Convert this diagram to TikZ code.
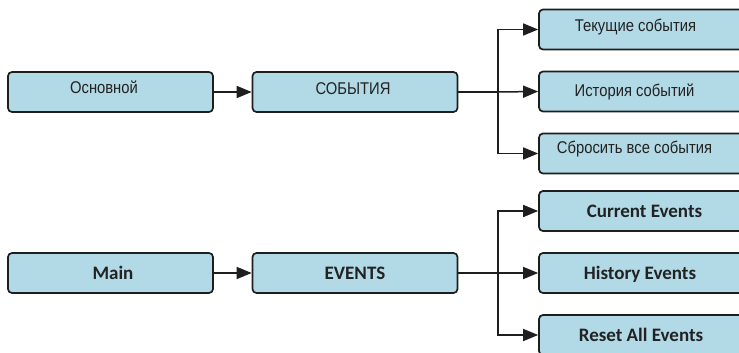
\documentclass[tikz,border=0pt]{standalone}
\usepackage{fontspec}
\setmainfont{Liberation Sans}
\newfontfamily\rufont[FakeStretch=0.87]{Liberation Sans}
\newfontfamily\enfont{Carlito}
\usetikzlibrary{arrows.meta}
\definecolor{boxfill}{HTML}{B1D9E6}
\definecolor{boxline}{HTML}{1E1E1E}
\definecolor{txt}{HTML}{222222}
\tikzset{
  box/.style={draw=boxline, line width=1.7pt, fill=boxfill, rounded corners=4pt,
    minimum width=205pt, minimum height=40pt, inner sep=0pt},
  rutext/.style={text height=0pt, text depth=0pt, text=txt, inner sep=0pt, font=\rufont\fontsize{17}{19}\selectfont},
  entext/.style={text height=0pt, text depth=0pt, text=txt, inner sep=0pt, font=\enfont\bfseries\fontsize{19}{21}\selectfont},
  conn/.style={line width=1.5pt, draw=boxline},
  arr/.style={conn, -{Triangle[length=15pt,width=12pt]}}
}
\begin{document}
\begin{tikzpicture}[x=1pt,y=-1pt]
\useasboundingbox (0,0) rectangle (739,353);
\clip (0,0) rectangle (739,353);
\fill[white] (0,0) rectangle (739,353);
% top (Russian)
\node[box, label={[rutext, xshift=-6.5pt, yshift=-1.5pt]center:Основной}] (ru1) at (110.5,92) {};
\node[box, label={[rutext, xshift=-2pt, yshift=-2pt]center:СОБЫТИЯ}] (ru2) at (355,92) {};
\node[box, label={[rutext, xshift=-6pt, yshift=-2.5pt]center:Текущие события}] (ru3) at (641.5,29.5) {};
\node[box, label={[rutext, xshift=-7pt, yshift=-4.5pt]center:История событий}] (ru4) at (641.5,91.5) {};
\node[box, label={[rutext, xshift=-7pt, yshift=0pt]center:Сбросить все события}] (ru5) at (641.5,153.5) {};
\coordinate (rj) at (498,92);
\draw[arr] (ru1.east) -- (ru2.west);
\draw[conn] (ru2.east) -- (rj);
\draw[arr] (rj) |- (ru3.west);
\draw[arr] (rj) -- (ru4.west);
\draw[arr] (rj) |- (ru5.west);
% bottom (English)
\node[box, label={[entext, xshift=2.5pt, yshift=-6pt]center:Main}] (en1) at (110.5,273) {};
\node[box, label={[entext, xshift=0pt, yshift=-6pt]center:EVENTS}] (en2) at (355,273) {};
\node[box, label={[entext, xshift=3pt, yshift=-6pt]center:Current Events}] (en3) at (641.5,211) {};
\node[box, label={[entext, xshift=-1.5pt, yshift=-6pt]center:History Events}] (en4) at (641.5,273) {};
\node[box, label={[entext, xshift=-0.5pt, yshift=-6.5pt]center:Reset All Events}] (en5) at (641.5,335) {};
\coordinate (ej) at (498,273);
\draw[arr] (en1.east) -- (en2.west);
\draw[conn] (en2.east) -- (ej);
\draw[arr] (ej) |- (en3.west);
\draw[arr] (ej) -- (en4.west);
\draw[arr] (ej) |- (en5.west);
\end{tikzpicture}
\end{document}
